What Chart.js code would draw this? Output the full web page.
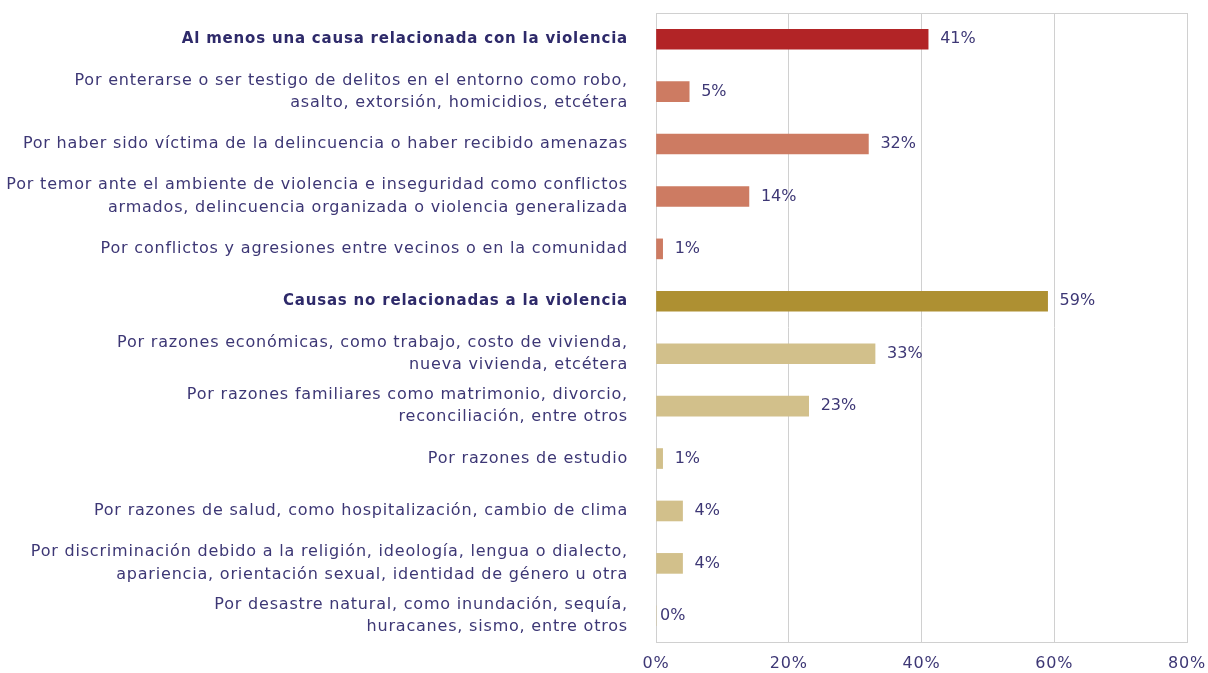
<!DOCTYPE html>
<html>
<head>
<meta charset="utf-8">
<script src="https://cdn.jsdelivr.net/npm/chart.js@4"></script>
<style>
  html, body { margin: 0; padding: 0; background: #ffffff; }
  #wrap { width: 1208px; height: 673px; position: relative; }
</style>
</head>
<body>
<div id="wrap"><canvas id="c"></canvas></div>
<script>
const categories = [
  "Al menos una causa relacionada con la violencia",
  ["Por enterarse o ser testigo de delitos en el entorno como robo,", "asalto, extorsión, homicidios, etcétera"],
  "Por haber sido víctima de la delincuencia o haber recibido amenazas",
  ["Por temor ante el ambiente de violencia e inseguridad como conflictos", "armados, delincuencia organizada o violencia generalizada"],
  "Por conflictos y agresiones entre vecinos o en la comunidad",
  "Causas no relacionadas a la violencia",
  ["Por razones económicas, como trabajo, costo de vivienda,", "nueva vivienda, etcétera"],
  ["Por razones familiares como matrimonio, divorcio,", "reconciliación, entre otros"],
  "Por razones de estudio",
  "Por razones de salud, como hospitalización, cambio de clima",
  ["Por discriminación debido a la religión, ideología, lengua o dialecto,", "apariencia, orientación sexual, identidad de género u otra"],
  ["Por desastre natural, como inundación, sequía,", "huracanes, sismo, entre otros"]
];
const values = [41, 5, 32, 14, 1, 59, 33, 23, 1, 4, 4, 0];
const barColors = ["#b22426", "#cd7b62", "#cd7b62", "#cd7b62", "#cd7b62",
                   "#ae9032", "#d2c08b", "#d2c08b", "#d2c08b", "#d2c08b", "#d2c08b", "#d2c08b"];
const boldRows = [0, 5];
const xTicks = [0, 20, 40, 60, 80];

const textColor = "#3d3775";
const boldColor = "#2e2a6a";
const fontFamily = "'DejaVu Sans', 'Open Sans', sans-serif";

const spacing = {
  id: 'spacing',
  beforeDraw(chart) { chart.ctx.letterSpacing = '0.8px'; }
};

const valueLabels = {
  id: 'valueLabels',
  afterDatasetsDraw(chart) {
    const ctx = chart.ctx;
    const meta = chart.getDatasetMeta(0);
    ctx.save();
    ctx.letterSpacing = '0px';
    ctx.fillStyle = textColor;
    ctx.font = "16px " + fontFamily;
    ctx.textBaseline = 'middle';
    ctx.textAlign = 'left';
    meta.data.forEach((bar, i) => {
      ctx.fillText(values[i] + '%', bar.x + (values[i] === 0 ? 4 : 12), bar.y);
    });
    ctx.restore();
  }
};

const frame = {
  id: 'frame',
  beforeDatasetsDraw(chart) {
    const a = chart.chartArea;
    const ctx = chart.ctx;
    ctx.save();
    ctx.strokeStyle = "#d0d0d0";
    ctx.lineWidth = 1;
    ctx.strokeRect(Math.round(a.left) + 0.5, Math.round(a.top) + 0.5,
                   Math.round(a.right - a.left), Math.round(a.bottom - a.top));
    ctx.restore();
  }
};

new Chart(document.getElementById('c'), {
  type: 'bar',
  data: {
    labels: categories,
    datasets: [{
      data: values,
      backgroundColor: barColors,
      barThickness: 20,
      borderWidth: 0
    }]
  },
  options: {
    indexAxis: 'y',
    responsive: true,
    maintainAspectRatio: false,
    animation: false,
    layout: { padding: { top: 13, right: 21, bottom: 0, left: 0 } },
    plugins: { legend: { display: false }, tooltip: { enabled: false } },
    scales: {
      x: {
        min: 0, max: 80,
        afterBuildTicks(scale) { scale.ticks = xTicks.map(v => ({ value: v })); },
        afterFit(scale) { scale.paddingLeft = 0; scale.paddingRight = 0; scale.height = 31; },
        grid: { color: "#d0d0d0", drawTicks: false },
        border: { display: false },
        ticks: {
          color: textColor,
          font: { size: 16, family: fontFamily },
          padding: 12,
          callback: v => v + '%'
        }
      },
      y: {
        afterFit(scale) { scale.paddingTop = 0; scale.paddingBottom = 0; scale.width = 656; },
        grid: { display: false, drawTicks: false },
        border: { display: false },
        ticks: {
          color: ctx => boldRows.includes(ctx.index) ? boldColor : textColor,
          padding: 28,
          autoSkip: false,
          font: ctx => ({
            size: boldRows.includes(ctx.index) ? 15 : 16,
            family: fontFamily,
            weight: boldRows.includes(ctx.index) ? 'bold' : 'normal',
            lineHeight: 1.4
          })
        }
      }
    }
  },
  plugins: [spacing, frame, valueLabels]
});
</script>
</body>
</html>
